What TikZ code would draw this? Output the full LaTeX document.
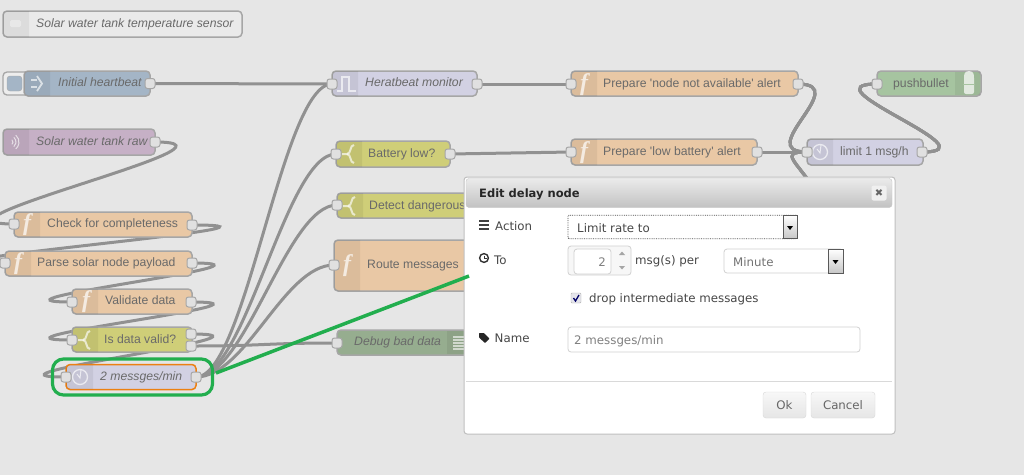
\documentclass[tikz,border=0pt]{standalone}
\usepackage{fontspec}
\usepackage{tikz}
\usetikzlibrary{arrows}
\newfontfamily\nodefont{Liberation Sans}
\newfontfamily\dialogfont{DejaVu Sans}
\newfontfamily\funcfont{Liberation Serif}

\definecolor{canvasgrey}{HTML}{E6E6E6}
\definecolor{wiregrey}{HTML}{919191}
\definecolor{bordergrey}{HTML}{A6A6A6}
\definecolor{injectfill}{HTML}{A4B5C6}
\definecolor{mqttfill}{HTML}{C6B0C6}
\definecolor{funcfill}{HTML}{E9C8A5}
\definecolor{switchfill}{HTML}{CFCE78}
\definecolor{delayfill}{HTML}{D2D1E3}
\definecolor{debugfill}{HTML}{96AD8F}
\definecolor{pushfill}{HTML}{A6C4A0}
\definecolor{commentfill}{HTML}{EAEAEA}
\definecolor{selectgreen}{HTML}{22AE4E}
\definecolor{labeltext}{HTML}{6A6A6A}

\pgfdeclarelayer{canvas}
\pgfdeclarelayer{wires}
\pgfsetlayers{canvas,wires,main}

\tikzset{
	flowbody/.style={draw=bordergrey, line width=1.5pt, rounded corners=4pt, inner sep=0pt},
	iconbar/.style={black, opacity=.06},
	port/.style={draw=bordergrey, fill=black!12, line width=1pt, rounded corners=2.5pt, minimum size=10pt, inner sep=0pt},
	wire/.style={draw=wiregrey, line width=3pt},
	nodetext/.style={anchor=mid west, inner sep=0pt, yshift=-2pt, text=labeltext, font=\nodefont\fontsize{12.2}{15}\selectfont},
	nodeitalic/.style={nodetext, font=\nodefont\fontsize{12.2}{15}\selectfont\itshape},
	funcicon/.style={inner sep=0pt, text=white, text opacity=.7, font=\funcfont\bfseries\fontsize{24}{24}\selectfont\itshape},
	whiteicon/.style={draw=white, draw opacity=.65, line width=1.6pt},
	dialogtext/.style={anchor=mid west, inner sep=0pt, yshift=-2pt, text=black!72, font=\dialogfont\fontsize{11.8}{14}\selectfont},
	formbox/.style={draw=black!18, fill=white, rounded corners=3pt, line width=.8pt, inner sep=0pt},
	dropbutton/.style={draw=black!65, top color=white, bottom color=black!22, line width=.7pt, inner sep=0pt},
	dialogbutton/.style={draw=black!15, top color=black!3, bottom color=black!10, rounded corners=3pt, inner sep=0pt, text=black!60, font=\dialogfont\fontsize{11.8}{14}\selectfont},
	darkicon/.style={draw=black!80, line width=1.4pt}
}

% left, top, right, bottom, icon edge, fill
\newcommand{\flownode}[7]{
	\node[flowbody, fill=#7, minimum width={(#4-#2)*1pt}, minimum height={(#5-#3)*1pt}] (#1) at ({(#2+#4)/2},{(#3+#5)/2}) {};
	\begin{scope}
		\clip (#2,#3) rectangle (#6,#5);
		\fill[iconbar, rounded corners=4pt] (#2,#3) rectangle (#4,#5);
	\end{scope}
}
\newcommand{\switchicon}[2]{
	\draw[whiteicon, line width=2pt] (#1-7,#2) -- (#1-2,#2) to[out=0,in=180] (#1+5,#2-9);
	\draw[whiteicon, line width=2pt] (#1-2,#2) to[out=0,in=180] (#1+5,#2+9);
}
\newcommand{\delayicon}[2]{
	\draw[whiteicon, line width=1.3pt] (#1,#2) circle (7.5);
	\draw[whiteicon, line width=1pt] (#1-3,#2-3) -- (#1,#2+1) -- (#1+1,#2-7);
}
\newcommand{\wire}[3]{\draw[wire] (#1.center) .. controls +(#3,0) and +(-#3,0) .. (#2.center);}

\begin{document}
\begin{tikzpicture}[x=1pt, y=-1pt]
	\useasboundingbox (0,0) rectangle (1024,475);
	\begin{pgfonlayer}{canvas}
		\fill[canvasgrey] (0,0) rectangle (1024,475);
	\end{pgfonlayer}

	% comment
	\flownode{comment}{3}{11}{242}{37}{29}{commentfill}
	\node[nodeitalic] (commenttext) at (36,23) {Solar water tank temperature sensor};
	\fill[white, opacity=.35, rounded corners=1.5pt] (10,20) rectangle (21,27);

	% inject
	\draw[draw=bordergrey, fill=canvasgrey!70!white, line width=1.3pt, rounded corners=4pt] (3,72) rectangle (30,95);
	\fill[injectfill, draw=bordergrey, rounded corners=3pt] (7,76) rectangle (22,91);
	\flownode{heartbeat}{24}{71}{150}{96}{50}{injectfill}
	\node[nodeitalic] (heartbeattext) at (58,82.5) {Initial heartbeat};
	\draw[whiteicon, line width=2pt] (31,80) -- (37,80) (31,87) -- (37,87);
	\draw[whiteicon, line width=1.8pt] (37,76) -- (42,83.5) -- (37,91);
	\node[port] (heartbeat-out) at (150,83.5) {};

	% mqtt
	\flownode{raw}{3}{129}{155}{155}{29}{mqttfill}
	\node[nodeitalic] (rawtext) at (36,141) {Solar water tank raw};
	\foreach \rr in {3,6,9}
		\draw[whiteicon, line width=1pt] (10,142) ++(-50:\rr) arc (-50:50:\rr);
	\node[port] (raw-out) at (155,142) {};

	% function chain
	\flownode{check}{14}{212}{192}{237}{40}{funcfill}
	\node[nodetext] (checktext) at (47,223) {Check for completeness};
	\node[funcicon] (checkf) at (27,225) {f};
	\node[port] (check-in) at (14,224) {};
	\node[port] (check-out) at (192,225) {};

	\flownode{parse}{5}{251}{192}{276}{31}{funcfill}
	\node[nodetext] (parsetext) at (37,262) {Parse solar node payload};
	\node[funcicon] (parsef) at (18,264) {f};
	\node[port] (parse-in) at (5,263) {};
	\node[port] (parse-out) at (192,263) {};

	\flownode{validate}{72}{289}{192}{314}{98}{funcfill}
	\node[nodetext] (validatetext) at (105,300.5) {Validate data};
	\node[funcicon] (validatef) at (86,302) {f};
	\node[port] (validate-in) at (72,302) {};
	\node[port] (validate-out) at (191,302) {};

	\flownode{valid}{72}{327}{192}{352}{98}{switchfill}
	\node[nodetext] (validtext) at (104,339) {Is data valid?};
	\switchicon{85}{340}
	\node[port] (valid-in) at (72,340) {};
	\node[port] (valid-yes) at (191,334) {};
	\node[port] (valid-no) at (191,346) {};

	\node[flowbody, draw=orange!70!brown, fill=delayfill, minimum width=130pt, minimum height=25pt] (limit2) at (131,377) {};
	\begin{scope}
		\clip (66,365) rectangle (93,389);
		\fill[iconbar, rounded corners=4pt] (66,365) rectangle (196,389);
	\end{scope}
	\node[nodeitalic] (limit2text) at (100,376) {2 messges/min};
	\delayicon{80}{377}
	\node[port] (limit2-in) at (66,377) {};
	\node[port] (limit2-out) at (196,377) {};

	% middle column
	\flownode{monitor}{332}{71}{477}{96}{358}{delayfill}
	\node[nodeitalic] (monitortext) at (365,82.5) {Heratbeat monitor};
	\draw[whiteicon, line width=1.8pt] (337,91) -- (342,91) -- (342,77) -- (349,77) -- (349,91) -- (356,91);
	\node[port] (monitor-in) at (332,84) {};
	\node[port] (monitor-out) at (477,84) {};

	\flownode{battery}{336}{141}{450}{167}{362}{switchfill}
	\node[nodetext] (batterytext) at (368,153) {Battery low?};
	\switchicon{349}{154}
	\node[port] (battery-in) at (336,154) {};
	\node[port] (battery-out) at (450,154) {};

	\flownode{detect}{337}{193}{490}{218}{363}{switchfill}
	\node[nodetext] (detecttext) at (369,205) {Detect dangerous};
	\switchicon{350}{206}
	\node[port] (detect-in) at (337,205) {};

	\flownode{route}{334}{240}{490}{291}{360}{funcfill}
	\node[nodetext] (routetext) at (367,264) {Route messages};
	\node[funcicon] (routef) at (347,266) {f};
	\node[port] (route-in) at (334,265) {};

	\flownode{debug}{337}{330}{490}{355}{337}{debugfill}
	\fill[iconbar] (447,331) rectangle (489,354);
	\node[nodeitalic] (debugtext) at (354,341.5) {Debug bad data};
	\foreach \ly in {337,340,343,346,349}
		\draw[white, opacity=.6, line width=1.2pt] (453,\ly) -- (464,\ly);
	\node[port] (debug-in) at (337,343) {};

	% right hand side
	\flownode{alertnode}{571}{71}{798}{96}{597}{funcfill}
	\node[nodetext] (alertnodetext) at (603,83) {Prepare 'node not available' alert};
	\node[funcicon] (alertnodef) at (584,85) {f};
	\node[port] (alertnode-in) at (571,84) {};
	\node[port] (alertnode-out) at (798,84) {};

	\flownode{alertbatt}{571}{139}{757}{165}{597}{funcfill}
	\node[nodetext] (alertbatttext) at (603,151) {Prepare 'low battery' alert};
	\node[funcicon] (alertbattf) at (584,153) {f};
	\node[port] (alertbatt-in) at (571,152) {};
	\node[port] (alertbatt-out) at (757,152) {};

	\flownode{limit1}{807}{139}{923}{165}{833}{delayfill}
	\node[nodetext] (limit1text) at (840,151) {limit 1 msg/h};
	\delayicon{820}{152}
	\node[port] (limit1-in) at (807,152) {};
	\node[port] (limit1-out) at (922,152) {};

	\flownode{push}{877}{71}{981}{96}{877}{pushfill}
	\fill[iconbar] (955,72) rectangle (980,95);
	\node[nodetext] (pushtext) at (893,83) {pushbullet};
	\fill[white, opacity=.7, rounded corners=2pt] (964,94) -- (964,76) .. controls (965,70) and (973,70) .. (974,76) -- (974,94) -- cycle;
	\draw[pushfill, line width=.8pt] (963,84) -- (975,84);
	\node[port] (push-in) at (877,84) {};

	% wires go under the nodes
	\coordinate (hiddenwire) at (822,200);
	\begin{pgfonlayer}{wires}
		\draw[wire] (heartbeat-out.center) -- (monitor-in.center);
		\draw[wire] (monitor-out.center) -- (alertnode-in.center);
		\draw[wire] (battery-out.center) -- (alertbatt-in.center);
		\draw[wire] (alertbatt-out.center) -- (limit1-in.center);
		\wire{raw-out}{check-in}{110}
		\wire{check-out}{parse-in}{145}
		\wire{parse-out}{validate-in}{110}
		\wire{validate-out}{valid-in}{110}
		\wire{valid-yes}{limit2-in}{110}
		\wire{valid-no}{debug-in}{75}
		\foreach \target in {monitor-in,battery-in,detect-in,route-in}
			\wire{limit2-out}{\target}{50}
		\wire{alertnode-out}{limit1-in}{55}
		\wire{limit1-out}{push-in}{75}
		\draw[wire] (limit1-in.center) .. controls +(-30,0) and +(-25,-40) .. (hiddenwire);
	\end{pgfonlayer}

	% dialog
	\node[draw=black!25, fill=white, rounded corners=3pt, line width=1pt, minimum width=431pt, minimum height=257pt, inner sep=0pt] (dialog) at (679.5,305.5) {};
	\node[draw=black!22, top color=black!8, bottom color=black!24, rounded corners=3pt, minimum width=426pt, minimum height=29pt, inner sep=0pt] (titlebar) at (679,193) {};
	\node[anchor=mid west, inner sep=0pt, yshift=-2pt, text=black!85, font=\dialogfont\bfseries\fontsize{11.5}{14}\selectfont] (dialogtitle) at (479,193) {Edit delay node};
	\node[fill=black!6, rounded corners=2pt, minimum size=15pt, inner sep=0pt, text=black!60, font=\dialogfont\fontsize{10}{10}\selectfont] (closebutton) at (879,193) {✖};

	% emphasis, drawn over the dialog edge
	\node[draw=selectgreen, line width=3.2pt, rounded corners=11pt, minimum width=160pt, minimum height=36pt, inner sep=0pt] (selectring) at (132.5,377) {};
	\coordinate (dialogtip) at (469,276);
	\draw[selectgreen, line width=3.5pt] (216,373) -- (dialogtip);

	% form
	\draw[black!75, line width=1.8pt] (479,221) -- (489,221) (479,225) -- (489,225) (479,229) -- (489,229);
	\node[dialogtext] (actionlabel) at (495,226) {Action};
	\node[formbox, draw=black!70, densely dotted, rounded corners=1pt, minimum width=229pt, minimum height=23.5pt] (actionselect) at (682.5,227) {};
	\node[dialogtext] (actionvalue) at (577,228) {Limit rate to};
	\node[dropbutton, minimum width=14pt, minimum height=23.5pt] (actiondrop) at (790,227) {};
	\fill[black] (787,226) -- (793,226) -- (790,230) -- cycle;

	\draw[darkicon] (484,258) circle (4.4);
	\draw[black!80, line width=1pt] (484,255.5) -- (484,258) -- (486.5,258);
	\node[dialogtext] (tolabel) at (494,260) {To};
	\node[formbox, minimum width=63pt, minimum height=29pt, fill=black!3] (spinner) at (599.5,260.5) {};
	\node[formbox, minimum width=37pt, minimum height=25pt] (spinnerinput) at (592.5,261.5) {};
	\node[anchor=mid east, inner sep=0pt, yshift=-2pt, text=black!50, font=\dialogfont\fontsize{11.8}{14}\selectfont] (spinnervalue) at (606,262) {2};
	\fill[black!35] (619,255) -- (625,255) -- (622,251.5) -- cycle;
	\fill[black!35] (619,266) -- (625,266) -- (622,269.5) -- cycle;
	\node[dialogtext] (perlabel) at (635,260) {msg(s) per};
	\node[formbox, minimum width=119pt, minimum height=24pt] (unitselect) at (783.5,261) {};
	\node[dialogtext, text=black!55] (unitvalue) at (733,262) {Minute};
	\node[dropbutton, minimum width=15pt, minimum height=24pt] (unitdrop) at (835.5,261) {};
	\fill[black] (832.5,260) -- (838.5,260) -- (835.5,264) -- cycle;

	\node[draw=black!30, fill=blue!20!black!10!white, rounded corners=1pt, minimum size=10pt, inner sep=0pt] (dropcheck) at (576,298) {};
	\draw[blue!40!black, line width=1.3pt] (573.5,298) -- (575.5,301) -- (579,295);
	\node[dialogtext] (droplabel) at (589,298) {drop intermediate messages};

	\fill[black!85, rounded corners=.6pt] (479,333) -- (484,333) -- (489.5,338.5) -- (485,343) -- (479,337.5) -- cycle;
	\node[dialogtext] (namelabel) at (494.5,338) {Name};
	\node[formbox, minimum width=292pt, minimum height=25pt] (nameinput) at (714,339.5) {};
	\node[dialogtext, text=black!50] (namevalue) at (574,340) {2 messges/min};

	\draw[black!15, line width=1pt] (466,381) -- (892,381);
	\node[dialogbutton, minimum width=43pt, minimum height=26pt] (okbutton) at (784.5,405) {Ok};
	\node[dialogbutton, minimum width=64pt, minimum height=26pt] (cancelbutton) at (843,405) {Cancel};
\end{tikzpicture}
\end{document}
